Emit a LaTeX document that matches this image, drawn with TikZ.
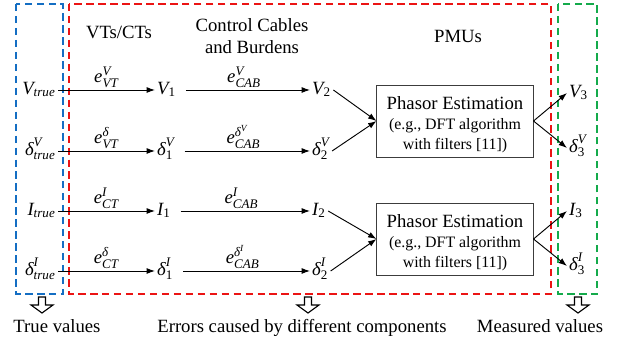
\documentclass[tikz,border=0pt]{standalone}
\usepackage{amsmath}
\usepackage{fontspec}
\newfontfamily\libser{Liberation Serif}
\usetikzlibrary{arrows.meta}
\definecolor{dblue}{RGB}{20,110,195}
\definecolor{dred}{RGB}{235,20,20}
\definecolor{dgreen}{RGB}{20,170,75}
\definecolor{boxgray}{RGB}{60,60,60}
\begin{document}
\begin{tikzpicture}[x=0.535pt,y=-0.535pt,
  font=\libser\fontsize{10}{12}\selectfont,
  lbl/.style={inner sep=1pt},
  arr/.style={-{Latex[length=4.5pt,width=3.2pt]}, line width=0.5pt},
  pbox/.style={draw=boxgray, line width=0.5pt, minimum width=83.5pt, minimum height=38.5pt,
    inner sep=0pt, align=center, font=\libser\fontsize{10}{10.7}\selectfont},
  dbox/.style={dash pattern=on 4pt off 2.4pt, line width=0.9pt},
  hollow/.style={draw, line width=0.6pt, fill=white}]
\useasboundingbox (0,0) rectangle (618,343);

% dashed groups
\draw[dbox, dblue] (16,4) rectangle (63,294);
\draw[dbox, dred] (69,4) rectangle (551,294);
\draw[dbox, dgreen] (558,4) rectangle (597,294);

% headers
\node[anchor=base] (hvt) at (119,39) {VTs/CTs};
\node[align=center] (hcab) at (252,36) {Control Cables\\and Burdens};
\node[anchor=base] (hpmu) at (458,43) {PMUs};

% column 0: true values
\node[lbl, anchor=mid east] (vt) at (58,90) {$\textit{V}_{\textit{true}}$};
\node[lbl, anchor=mid east] (dvt) at (58,151) {$\textit{δ}^{\textit{V}}_{\textit{true}}$};
\node[lbl, anchor=mid east] (it) at (58,211) {$\textit{I}_{\textit{true}}$};
\node[lbl, anchor=mid east] (dit) at (58,271) {$\textit{δ}^{\textit{I}}_{\textit{true}}$};

% column 1
\node[lbl, anchor=mid west] (v1) at (155,90) {$\textit{V}_{\text{1}}$};
\node[lbl, anchor=mid west] (d1v) at (155,151) {$\textit{δ}^{\textit{V}}_{\text{1}}$};
\node[lbl, anchor=mid west] (i1) at (155,211) {$\textit{I}_{\text{1}}$};
\node[lbl, anchor=mid west] (d1i) at (155,271) {$\textit{δ}^{\textit{I}}_{\text{1}}$};

% column 2
\node[lbl, anchor=mid west] (v2) at (310,90) {$\textit{V}_{\text{2}}$};
\node[lbl, anchor=mid west] (d2v) at (310,151) {$\textit{δ}^{\textit{V}}_{\text{2}}$};
\node[lbl, anchor=mid west] (i2) at (310,211) {$\textit{I}_{\text{2}}$};
\node[lbl, anchor=mid west] (d2i) at (310,271) {$\textit{δ}^{\textit{I}}_{\text{2}}$};

% PMU boxes
\node[pbox] (box1) at (455,121) {\rule{0pt}{11pt}Phasor Estimation\\{\fontsize{8.5}{10}\selectfont (e.g., DFT algorithm}\\{\fontsize{8.5}{10}\selectfont with filters [11])}};
\node[pbox] (box2) at (455,239) {\rule{0pt}{11pt}Phasor Estimation\\{\fontsize{8.5}{10}\selectfont (e.g., DFT algorithm}\\{\fontsize{8.5}{10}\selectfont with filters [11])}};

% column 3: measured
\node[lbl, anchor=mid west] (v3) at (567,93) {$\textit{V}_{\text{3}}$};
\node[lbl, anchor=mid west] (d3v) at (567,148) {$\textit{δ}^{\textit{V}}_{\text{3}}$};
\node[lbl, anchor=mid west] (i3) at (567,211) {$\textit{I}_{\text{3}}$};
\node[lbl, anchor=mid west] (d3i) at (567,266) {$\textit{δ}^{\textit{I}}_{\text{3}}$};

% arrows: true -> 1
\draw[arr] (vt.mid east) -- node[lbl, above] {$\textit{e}^{\textit{V}}_{\textit{VT}}$} (v1.mid west);
\draw[arr] (dvt.mid east) -- node[lbl, above] {$\textit{e}^{\textit{δ}}_{\textit{VT}}$} (d1v.mid west);
\draw[arr] (it.mid east) -- node[lbl, above] {$\textit{e}^{\textit{I}}_{\textit{CT}}$} (i1.mid west);
\draw[arr] (dit.mid east) -- node[lbl, above] {$\textit{e}^{\textit{δ}}_{\textit{CT}}$} (d1i.mid west);

% arrows: 1 -> 2
\draw[arr, shorten <=4pt] (v1.mid east) -- node[lbl, above] {$\textit{e}^{\textit{V}}_{\textit{CAB}}$} (v2.mid west);
\draw[arr, shorten <=4pt] (d1v.mid east) -- node[lbl, above] {$\textit{e}^{\textit{δ}^{\textit{V}}}_{\textit{CAB}}$} (d2v.mid west);
\draw[arr, shorten <=4pt] (i1.mid east) -- node[lbl, above] {$\textit{e}^{\textit{I}}_{\textit{CAB}}$} (i2.mid west);
\draw[arr, shorten <=4pt] (d1i.mid east) -- node[lbl, above] {$\textit{e}^{\textit{δ}^{\textit{I}}}_{\textit{CAB}}$} (d2i.mid west);

% arrows: 2 -> boxes
\draw[arr] (v2.mid east) -- (box1.west);
\draw[arr] (d2v.mid east) -- (box1.west);
\draw[arr] (i2.mid east) -- (box2.west);
\draw[arr] (d2i.mid east) -- (box2.west);

% arrows: boxes -> 3
\draw[arr] (box1.east) -- (v3.mid west);
\draw[arr] (box1.east) -- (d3v.mid west);
\draw[arr] (box2.east) -- (i3.mid west);
\draw[arr] (box2.east) -- (d3i.mid west);

% hollow down arrows
\coordinate (ha1) at (42,297);
\coordinate (ha2) at (308,297);
\coordinate (ha3) at (578,297);
\foreach \c in {ha1,ha2,ha3}
  \draw[hollow] (\c) +(-3.5,0) -- +(3.5,0) -- +(3.5,8) -- +(11,8) -- +(0,16) -- +(-11,8) -- +(-3.5,8) -- cycle;

% bottom captions
\node[anchor=base] (ctrue) at (57,333) {True values};
\node[anchor=base] (cerr) at (302,333) {Errors caused by different components};
\node[anchor=base] (cmeas) at (540,333) {Measured values};
\end{tikzpicture}
\end{document}
